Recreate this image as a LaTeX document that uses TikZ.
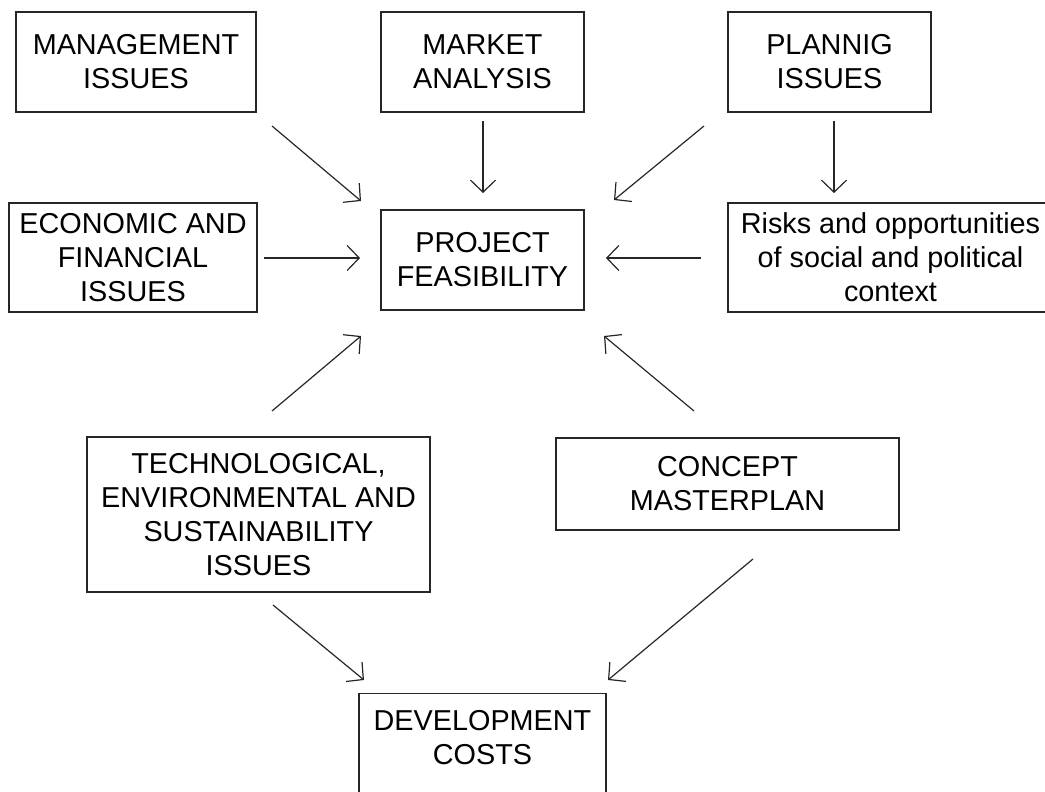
\documentclass[tikz,border=0pt]{standalone}
\usepackage{fontspec}
\setmainfont{Liberation Sans}
\usetikzlibrary{arrows.meta}
\begin{document}
\begin{tikzpicture}[x=1pt,y=-1pt,
  lbl/.style={align=center, inner sep=0pt, font=\fontsize{28.8}{34}\selectfont},
  box/.style={lbl, draw=black!85, line width=1.3pt},
  conn/.style={draw=black!85, line width=1.2pt, -{Straight Barb[length=12pt,width=25pt]}}]
\useasboundingbox (0,0) rectangle (1045,792);
% boxes
\node[box, minimum width=240pt, minimum height=100pt] (mgmt) at (136,62) {MANAGEMENT\\ISSUES};
\node[box, minimum width=203pt, minimum height=100pt] (market) at (482.5,62) {MARKET\\ANALYSIS};
\node[box, minimum width=203pt, minimum height=100pt] (plan) at (829.5,62) {PLANNIG\\ISSUES};
\node[box, minimum width=248pt, minimum height=109pt] (econ) at (133,257.5) {ECONOMIC AND\\FINANCIAL\\ISSUES};
\node[box, minimum width=203pt, minimum height=100pt] (proj) at (482.5,260) {PROJECT\\FEASIBILITY};
\node[box, minimum width=325pt, minimum height=109pt] (risks) at (890.5,257.5) {Risks and opportunities\\of social and political\\context};
\node[box, minimum width=343pt, minimum height=155pt] (tech) at (258.5,514.5) {TECHNOLOGICAL,\\ENVIRONMENTAL AND\\SUSTAINABILITY\\ISSUES};
\node[box, minimum width=343pt, minimum height=92pt] (concept) at (727.5,484) {CONCEPT\\MASTERPLAN};
\node[box, minimum width=247pt, minimum height=110pt, anchor=north] (dev) at (482.5,693) {};
\node[lbl] (devtext) at (482.5,738) {DEVELOPMENT\\COSTS};
% connector ends
\coordinate (mgmtout) at (272,126);   \coordinate (projnw) at (361,201);
\coordinate (marketout) at (483,121); \coordinate (projn) at (483,193);
\coordinate (planout) at (704,126);   \coordinate (projne) at (614,200);
\coordinate (plandown) at (834,121);  \coordinate (risksin) at (834,193);
\coordinate (econout) at (264,258);   \coordinate (projw) at (360,258);
\coordinate (risksout) at (701,258);  \coordinate (proje) at (606,258);
\coordinate (techup) at (272,411);    \coordinate (projsw) at (361,336);
\coordinate (conceptup) at (694,411); \coordinate (projse) at (604,336);
\coordinate (techdown) at (273,605);  \coordinate (devnw) at (364,680);
\coordinate (conceptdown) at (753,559); \coordinate (devne) at (608,680);
% connectors
\draw[conn] (mgmtout) -- (projnw);
\draw[conn] (marketout) -- (projn);
\draw[conn] (planout) -- (projne);
\draw[conn] (plandown) -- (risksin);
\draw[conn] (econout) -- (projw);
\draw[conn] (risksout) -- (proje);
\draw[conn] (techup) -- (projsw);
\draw[conn] (conceptup) -- (projse);
\draw[conn] (techdown) -- (devnw);
\draw[conn] (conceptdown) -- (devne);
\end{tikzpicture}
\end{document}
